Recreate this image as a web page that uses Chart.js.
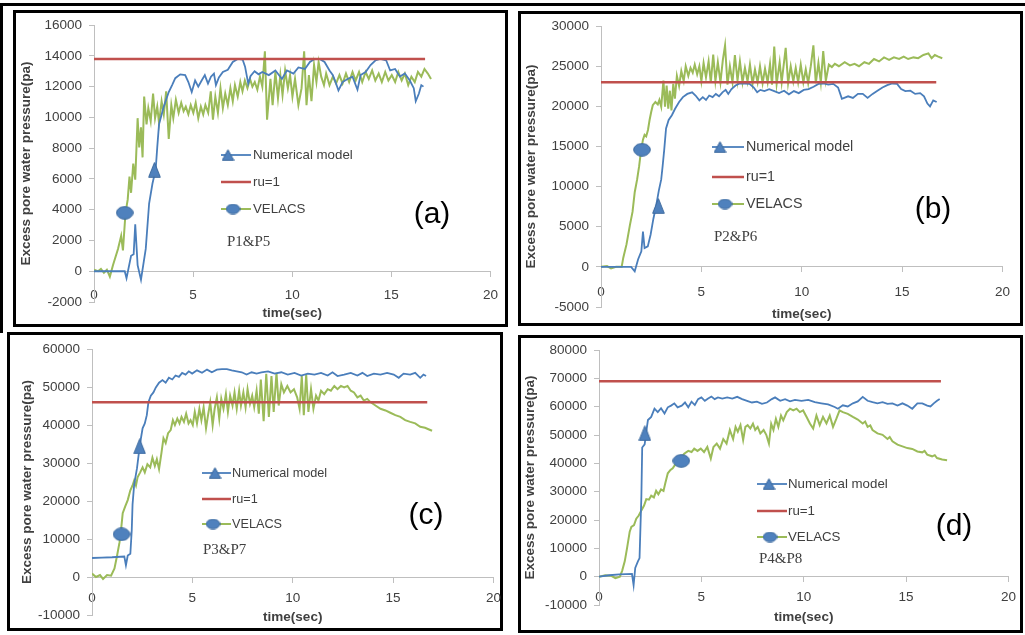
<!DOCTYPE html>
<html>
<head>
<meta charset="utf-8">
<script src="https://cdn.jsdelivr.net/npm/chart.js@4.4.1/dist/chart.umd.min.js"></script>
<style>
	html, body { margin: 0; padding: 0; background: #fff; width: 1025px; height: 635px; overflow: hidden; }
	body { position: relative; }
	canvas { position: absolute; }
	.box { position: absolute; border: 3px solid #000; box-sizing: border-box; }
	.frame { position: absolute; border-top: 3px solid #000; border-left: 3px solid #000; box-sizing: border-box; }
</style>
</head>
<body>
<div class="frame" style="left:0px;top:3px;width:1025px;height:330px"></div>
<div class="box" style="left:13px;top:10px;width:495px;height:317px"></div>
<div class="box" style="left:518px;top:11px;width:505px;height:315px"></div>
<div class="box" style="left:7px;top:332px;width:496px;height:299px"></div>
<div class="box" style="left:518px;top:335px;width:505px;height:298px"></div>
<canvas id="chartA"></canvas>
<canvas id="chartB"></canvas>
<canvas id="chartC"></canvas>
<canvas id="chartD"></canvas>
<script>
// time axis ticks (sec)
const xTicks = [0, 5, 10, 15, 20]

// (a) P1&P5
const aYTicks = [-2000, 0, 2000, 4000, 6000, 8000, 10000, 12000, 14000, 16000]
const aNumT = [0, 1.55, 1.64, 1.87, 2.0, 2.08, 2.2, 2.37, 2.61, 2.78, 2.95, 3.11, 3.19, 3.28, 3.52, 3.77, 3.94, 4.1, 4.35, 4.6, 4.76, 4.93, 5.1, 5.26, 5.43, 5.59, 5.75, 5.9, 6.05, 6.15, 6.3, 6.5, 6.75, 7.0, 7.25, 7.5, 7.62, 7.78, 7.9, 8.1, 8.3, 8.49, 8.82, 9.15, 9.48, 9.73, 10.06, 10.31, 10.64, 10.89, 11.13, 11.38, 11.63, 11.88, 12.05, 12.21, 12.33, 12.54, 12.79, 13.04, 13.29, 13.45, 13.7, 13.95, 14.19, 14.44, 14.74, 14.94, 15.19, 15.43, 15.68, 15.93, 16.13, 16.23, 16.39, 16.51, 16.62]
const aNumP = [0, 0, -450, 1000, 1100, 3050, 400, -550, 1450, 4400, 5700, 6600, 8050, 9550, 10700, 11650, 12100, 12550, 12800, 12750, 12300, 11650, 12400, 12000, 12400, 12750, 12200, 12650, 12850, 12100, 12600, 12950, 13100, 13600, 13800, 13750, 13300, 12200, 12700, 13000, 12800, 12950, 12750, 13050, 12500, 13050, 12850, 13250, 13150, 13600, 13800, 13800, 13600, 13050, 12750, 12200, 11750, 12300, 12500, 12650, 11800, 12750, 12950, 13400, 13700, 13800, 13700, 13050, 13150, 12650, 12850, 12400, 11900, 11050, 11550, 12100, 12000]
const aVelT = [0, 0.2, 0.35, 0.5, 0.65, 0.8, 0.96, 1.21, 1.37, 1.46, 1.59, 1.7, 1.79, 1.87, 1.98, 2.08, 2.2, 2.28, 2.37, 2.45, 2.53, 2.65, 2.74, 2.86, 2.98, 3.08, 3.19, 3.28, 3.41, 3.52, 3.64, 3.77, 3.9, 4.0, 4.13, 4.27, 4.4, 4.52, 4.63, 4.76, 4.88, 5.01, 5.13, 5.26, 5.39, 5.51, 5.62, 5.76, 5.89, 6.0, 6.12, 6.25, 6.38, 6.5, 6.62, 6.75, 6.88, 7.0, 7.11, 7.25, 7.38, 7.49, 7.61, 7.74, 7.87, 7.99, 8.11, 8.24, 8.37, 8.49, 8.62, 8.73, 8.9, 9.01, 9.15, 9.28, 9.4, 9.51, 9.64, 9.78, 9.89, 10.01, 10.14, 10.31, 10.47, 10.6, 10.72, 10.84, 10.97, 11.1, 11.22, 11.33, 11.46, 11.6, 11.71, 11.88, 12.05, 12.21, 12.38, 12.54, 12.71, 12.87, 13.04, 13.2, 13.37, 13.53, 13.7, 13.86, 14.03, 14.19, 14.36, 14.52, 14.69, 14.85, 15.02, 15.19, 15.35, 15.52, 15.68, 15.85, 16.01, 16.18, 16.34, 16.51, 16.67, 16.84, 17.0]
const aVelP = [100, 0, 150, -100, 100, -350, 400, 1450, 2300, 1350, 3800, 4650, 6150, 5100, 7000, 5950, 9950, 8050, 9350, 7400, 11350, 9550, 10600, 9750, 11550, 9950, 10700, 9650, 11050, 10200, 11700, 8600, 10800, 9950, 11150, 10300, 10950, 10400, 10700, 10200, 10800, 10300, 10950, 9950, 10700, 10200, 10800, 10300, 11700, 9850, 11350, 10300, 11900, 10600, 11550, 10800, 11900, 11050, 12100, 11350, 12300, 11700, 12400, 11900, 12500, 12000, 12300, 11800, 12650, 12000, 14300, 9850, 12500, 10800, 12950, 11250, 12750, 11450, 13050, 11900, 12750, 11350, 12500, 10800, 11900, 14300, 10800, 12750, 11050, 13400, 12300, 13600, 12650, 12100, 12850, 12100, 12650, 12200, 12750, 12200, 12850, 12300, 12950, 12400, 12950, 12300, 12950, 12500, 13050, 12400, 12850, 12300, 12950, 12400, 12750, 12300, 12950, 12400, 12850, 12100, 12650, 12300, 12950, 12650, 13150, 12850, 12500]
const aRu = 13800
const aTri = [3.05, 6600]
const aCir = [1.55, 3800]

// (b) P2&P6
const bYTicks = [-5000, 0, 5000, 10000, 15000, 20000, 25000, 30000]
const bNumT = [0, 1.5, 1.68, 1.85, 2.01, 2.09, 2.17, 2.33, 2.47, 2.61, 2.75, 2.88, 3.0, 3.07, 3.15, 3.24, 3.37, 3.53, 3.69, 3.89, 4.08, 4.3, 4.54, 4.71, 4.9, 5.07, 5.23, 5.39, 5.56, 5.72, 5.88, 6.05, 6.21, 6.34, 6.5, 6.7, 6.91, 7.16, 7.4, 7.61, 7.78, 7.94, 8.14, 8.38, 8.63, 8.87, 9.12, 9.36, 9.61, 9.85, 10.1, 10.34, 10.59, 10.83, 11.08, 11.32, 11.57, 11.81, 12.0, 12.31, 12.55, 12.8, 13.04, 13.28, 13.53, 13.77, 14.02, 14.26, 14.51, 14.75, 14.95, 15.16, 15.41, 15.65, 15.9, 16.09, 16.26, 16.39, 16.55, 16.72]
const bNumP = [0, 0, -550, 950, 1950, 4400, 2350, 2550, 4000, 6000, 7650, 9500, 10900, 12550, 14600, 17250, 18300, 18900, 19700, 20550, 21150, 21550, 21750, 21350, 20750, 21150, 20800, 21350, 21150, 21550, 21250, 21750, 22050, 21550, 22150, 22600, 22850, 22850, 22800, 22350, 21750, 22050, 21900, 22150, 21900, 21650, 21950, 21500, 21900, 21650, 22050, 22150, 22450, 22800, 22850, 22700, 22800, 22350, 20950, 21250, 21050, 21550, 21550, 21050, 21550, 21950, 22350, 22650, 22850, 22800, 22150, 21900, 21950, 21550, 21650, 21250, 20350, 20000, 20750, 20550]
const bVelT = [0, 0.3, 0.5, 0.75, 1.03, 1.11, 1.27, 1.44, 1.57, 1.68, 1.8, 1.9, 1.98, 2.09, 2.17, 2.25, 2.34, 2.42, 2.5, 2.58, 2.71, 2.83, 2.91, 3.0, 3.11, 3.19, 3.27, 3.35, 3.43, 3.51, 3.6, 3.68, 3.78, 3.89, 4.0, 4.12, 4.22, 4.35, 4.46, 4.57, 4.67, 4.79, 4.9, 5.0, 5.11, 5.23, 5.36, 5.47, 5.59, 5.7, 5.82, 5.95, 6.07, 6.18, 6.3, 6.42, 6.55, 6.67, 6.8, 6.92, 7.05, 7.17, 7.3, 7.42, 7.55, 7.67, 7.8, 7.92, 8.05, 8.17, 8.3, 8.42, 8.52, 8.63, 8.75, 8.9, 9.0, 9.2, 9.32, 9.45, 9.58, 9.7, 9.82, 9.95, 10.08, 10.2, 10.32, 10.45, 10.58, 10.7, 10.83, 10.95, 11.07, 11.2, 11.35, 11.5, 11.65, 11.85, 12.14, 12.4, 12.63, 12.85, 13.12, 13.35, 13.6, 13.85, 14.1, 14.35, 14.59, 14.85, 15.08, 15.3, 15.57, 15.8, 16.06, 16.31, 16.47, 16.63, 16.8, 17.0]
const bVelP = [0, 100, -200, 0, 0, 1150, 2800, 5200, 6850, 9300, 10900, 12550, 14200, 15850, 16450, 16250, 17050, 18300, 19300, 20150, 20550, 20250, 20800, 19950, 23200, 19950, 22600, 19700, 21950, 19500, 22800, 20950, 23800, 22550, 24400, 23150, 25000, 23800, 24800, 24200, 25200, 24000, 25000, 23150, 25400, 23600, 25600, 22950, 26450, 23150, 25500, 23000, 25800, 27600, 22700, 25000, 23000, 26400, 23200, 25600, 23000, 24800, 23100, 25200, 22800, 24600, 23000, 25000, 22900, 24700, 23000, 25300, 22700, 27450, 22800, 25500, 23000, 27300, 22900, 25000, 23100, 24800, 23000, 25200, 23000, 24600, 22900, 25000, 27600, 22900, 25400, 23000, 26900, 23200, 25200, 24900, 25300, 25000, 25500, 25100, 25300, 25000, 25500, 25300, 25900, 25600, 26100, 25800, 26100, 25900, 26200, 25900, 26100, 26000, 26400, 26600, 26000, 26400, 26200, 26000]
const bRu = 23000
const bTri = [2.86, 7600]
const bCir = [2.04, 14600]

// (c) P3&P7
const cYTicks = [-10000, 0, 10000, 20000, 30000, 40000, 50000, 60000]
const cNumT = [0, 0.5, 1.0, 1.61, 1.69, 1.78, 1.91, 1.98, 2.02, 2.1, 2.24, 2.32, 2.44, 2.52, 2.63, 2.73, 2.81, 2.93, 3.06, 3.18, 3.34, 3.51, 3.67, 3.83, 4.0, 4.16, 4.33, 4.49, 4.66, 4.82, 4.99, 5.23, 5.48, 5.73, 5.97, 6.22, 6.47, 6.72, 6.96, 7.21, 7.46, 7.7, 7.95, 8.2, 8.44, 8.77, 9.1, 9.43, 9.75, 10.09, 10.42, 10.75, 11.08, 11.41, 11.74, 11.98, 12.23, 12.56, 12.89, 13.22, 13.47, 13.71, 14.04, 14.37, 14.7, 15.03, 15.28, 15.52, 15.85, 16.1, 16.35, 16.51, 16.64]
const cNumP = [5000, 5100, 5200, 5400, 3100, 5650, 6100, 12300, 19100, 24300, 28600, 32000, 36600, 39150, 40450, 42600, 46000, 47750, 48600, 49900, 51150, 51850, 51150, 52450, 52000, 53050, 52700, 53750, 53300, 54150, 53550, 54400, 53750, 54600, 53900, 54600, 54750, 54750, 54400, 54150, 53900, 53300, 53900, 53550, 53900, 54150, 53550, 53900, 53300, 53750, 53050, 53550, 53300, 53750, 53050, 53900, 52900, 53300, 53750, 53050, 53750, 52900, 53550, 53300, 53750, 53300, 52450, 53550, 53300, 53750, 52450, 53300, 52900]
const cVelT = [0, 0.2, 0.4, 0.55, 0.75, 0.95, 1.12, 1.25, 1.37, 1.45, 1.53, 1.65, 1.78, 1.91, 2.02, 2.1, 2.19, 2.27, 2.4, 2.52, 2.63, 2.76, 2.9, 3.01, 3.13, 3.23, 3.34, 3.46, 3.56, 3.67, 3.79, 3.92, 4.03, 4.13, 4.25, 4.36, 4.46, 4.58, 4.69, 4.81, 4.91, 5.02, 5.12, 5.23, 5.35, 5.45, 5.56, 5.68, 5.78, 5.89, 6.01, 6.11, 6.22, 6.34, 6.44, 6.55, 6.67, 6.77, 6.88, 7.0, 7.1, 7.21, 7.33, 7.42, 7.54, 7.65, 7.75, 7.87, 7.98, 8.08, 8.2, 8.31, 8.41, 8.55, 8.68, 8.81, 8.94, 9.05, 9.19, 9.3, 9.43, 9.56, 9.73, 9.89, 10.06, 10.22, 10.34, 10.45, 10.55, 10.67, 10.78, 10.91, 11.03, 11.16, 11.28, 11.41, 11.57, 11.74, 11.9, 12.07, 12.23, 12.4, 12.56, 12.73, 12.89, 13.05, 13.22, 13.38, 13.54, 13.71, 13.87, 14.12, 14.37, 14.62, 14.86, 15.11, 15.36, 15.6, 15.85, 16.1, 16.35, 16.59, 16.76, 16.94]
const cVelP = [900, 0, 500, -500, 500, 350, 2250, 5650, 9100, 12550, 16800, 18550, 20250, 22850, 24100, 25400, 24100, 26250, 27550, 28850, 27550, 29700, 28850, 31400, 29250, 31000, 28400, 32700, 36550, 35300, 37850, 38700, 41300, 40000, 41700, 40450, 42150, 40850, 43000, 40450, 41300, 40000, 43450, 40450, 44300, 41300, 44700, 39150, 42600, 46000, 40000, 44300, 47300, 41700, 46900, 44300, 48150, 43450, 47750, 45150, 48600, 44300, 49050, 45150, 48600, 44700, 49450, 45600, 47750, 44700, 49050, 43000, 52000, 41000, 53500, 42150, 52900, 43450, 53750, 45150, 50750, 48600, 50300, 48600, 49450, 47300, 44300, 52900, 42600, 53300, 43450, 49450, 44300, 47750, 46450, 49050, 48150, 49450, 49050, 50300, 49450, 50300, 49900, 50300, 49050, 48600, 47300, 47750, 46450, 46900, 46050, 45150, 44300, 43850, 43250, 42600, 42150, 41300, 40850, 40450, 39550, 39300, 38900, 38500]
const cRu = 46000
const cTri = [2.37, 34400]
const cCir = [1.47, 11250]

// (d) P4&P8
const dYTicks = [-10000, 0, 10000, 20000, 30000, 40000, 50000, 60000, 70000, 80000]
const dNumT = [0, 0.5, 1.0, 1.61, 1.69, 1.77, 1.9, 1.98, 2.07, 2.11, 2.23, 2.31, 2.39, 2.55, 2.71, 2.87, 3.03, 3.2, 3.36, 3.52, 3.68, 3.84, 4.04, 4.2, 4.36, 4.52, 4.68, 4.84, 5.0, 5.17, 5.33, 5.49, 5.65, 5.81, 6.02, 6.26, 6.51, 6.75, 6.99, 7.23, 7.47, 7.71, 7.96, 8.2, 8.44, 8.6, 8.85, 9.09, 9.33, 9.57, 9.89, 10.22, 10.54, 10.86, 11.19, 11.51, 11.67, 11.91, 12.15, 12.4, 12.64, 12.88, 13.12, 13.36, 13.6, 13.85, 14.09, 14.33, 14.58, 14.82, 15.06, 15.3, 15.55, 15.79, 16.03, 16.19, 16.35, 16.51, 16.64]
const dNumP = [0, 500, 800, 1000, -3000, 3100, 5400, 6550, 28400, 45600, 46700, 51300, 55300, 56400, 59300, 58100, 59500, 57600, 59800, 60400, 61200, 59800, 60400, 61500, 59800, 61800, 60600, 62700, 63300, 62100, 62900, 63600, 62700, 63300, 62900, 63300, 62900, 63500, 62700, 62100, 61500, 61800, 61000, 61500, 62700, 63300, 62100, 62700, 61900, 62400, 62100, 62400, 61600, 61200, 60800, 59900, 59300, 60500, 60100, 61200, 61900, 63500, 62100, 61600, 61200, 61600, 61000, 61200, 60400, 61200, 60400, 59300, 61200, 61200, 60400, 60100, 61200, 62100, 62700]
const dVelT = [0, 0.3, 0.6, 0.8, 1.02, 1.13, 1.26, 1.37, 1.5, 1.58, 1.71, 1.82, 1.94, 2.07, 2.2, 2.31, 2.44, 2.55, 2.68, 2.79, 2.9, 3.03, 3.15, 3.24, 3.36, 3.49, 3.6, 3.76, 3.92, 4.16, 4.36, 4.52, 4.65, 4.81, 4.97, 5.13, 5.29, 5.46, 5.59, 5.75, 5.91, 6.07, 6.23, 6.39, 6.55, 6.67, 6.78, 6.91, 7.04, 7.15, 7.26, 7.39, 7.52, 7.63, 7.75, 7.88, 8.04, 8.17, 8.3, 8.41, 8.52, 8.64, 8.76, 8.89, 9.0, 9.17, 9.33, 9.49, 9.65, 9.81, 9.97, 10.14, 10.3, 10.46, 10.62, 10.78, 10.94, 11.11, 11.27, 11.43, 11.59, 11.75, 11.91, 12.15, 12.4, 12.64, 12.88, 13.0, 13.12, 13.25, 13.36, 13.6, 13.85, 14.09, 14.2, 14.33, 14.58, 14.82, 15.06, 15.3, 15.55, 15.79, 15.9, 16.03, 16.27, 16.4, 16.51, 16.76, 17.0]
const dVelP = [0, 500, 300, -500, 0, 2050, 5500, 10100, 15900, 17600, 18200, 20500, 21600, 23400, 25100, 27400, 27200, 28600, 28000, 30300, 29100, 30800, 30300, 33100, 36500, 37700, 38300, 40000, 41200, 43400, 44400, 44000, 45200, 44400, 45200, 44000, 45800, 41700, 45800, 47000, 45200, 48600, 47000, 51800, 48600, 52900, 51200, 53500, 48300, 52900, 53500, 52300, 54000, 51800, 52900, 50600, 51800, 50100, 47000, 54000, 51800, 55700, 52900, 56900, 55200, 58100, 59300, 58700, 59300, 58100, 58700, 56400, 54100, 52300, 56900, 53500, 56400, 54100, 56900, 52900, 55700, 58700, 58100, 57500, 56400, 55500, 54100, 54800, 52900, 53400, 51800, 50600, 50100, 48600, 49300, 47800, 46600, 46000, 45400, 45100, 44200, 43900, 44400, 43100, 42500, 42900, 41900, 41400, 41100]
const dRu = 69000
const dTri = [2.24, 50700]
const dCir = [4.02, 40900]

const ruEnd = 16.7

const blue = '#4A7EBB'
const green = '#9BBB59'
const red = '#C0504D'
const markFill = '#4F81BD'
const grayText = '#404040'
const axisGray = '#BFBFBF'

function triangleImg(w, h) {
	const c = document.createElement('canvas')
	c.width = w
	c.height = h
	const g = c.getContext('2d')
	g.beginPath()
	g.moveTo(w / 2, 0.7)
	g.lineTo(w - 0.7, h - 0.7)
	g.lineTo(0.7, h - 0.7)
	g.closePath()
	g.fillStyle = markFill
	g.fill()
	g.strokeStyle = '#3D6A9E'
	g.lineWidth = 1
	g.stroke()
	return c
}

function ellipseImg(w, h) {
	const c = document.createElement('canvas')
	c.width = w
	c.height = h
	const g = c.getContext('2d')
	g.beginPath()
	g.ellipse(w / 2, h / 2, w / 2 - 0.7, h / 2 - 0.7, 0, 0, Math.PI * 2)
	g.fillStyle = markFill
	g.fill()
	g.strokeStyle = '#3D6A9E'
	g.lineWidth = 1
	g.stroke()
	return c
}

const triBig = triangleImg(13, 16)
const cirBig = ellipseImg(18, 14)
const triSmall = triangleImg(13, 12)
const cirSmall = ellipseImg(15, 11)

function pairs(ts, ps) {
	return ts.map((t, i) => ({ x: t, y: ps[i] }))
}

// page-pixel layout of each panel
const panels = [
	{
		id: 'chartA', tag: '(a)', probe: 'P1&P5',
		numT: aNumT, numP: aNumP, velT: aVelT, velP: aVelP, ru: aRu, tri: aTri, cir: aCir, yTicks: aYTicks,
		L: 94, T: 20, R: 497, B: 302, titleX: 26.5, xTitleGap: 42, xTickGap: 24,
		legend: { x1: 221, x2: 251, triX: 228, cirX: 233, textX: 253, rows: [155, 182, 209], size: 13.3 },
		probeAt: [227, 242], tagAt: [432, 215]
	},
	{
		id: 'chartB', tag: '(b)', probe: 'P2&P6',
		numT: bNumT, numP: bNumP, velT: bVelT, velP: bVelP, ru: bRu, tri: bTri, cir: bCir, yTicks: bYTicks,
		L: 601, T: 21, R: 1010, B: 307, titleX: 531, xTitleGap: 47, xTickGap: 25,
		legend: { x1: 712, x2: 744, triX: 720, cirX: 725, textX: 746, rows: [147, 177, 204], size: 14.3 },
		probeAt: [714, 237], tagAt: [933, 210]
	},
	{
		id: 'chartC', tag: '(c)', probe: 'P3&P7',
		numT: cNumT, numP: cNumP, velT: cVelT, velP: cVelP, ru: cRu, tri: cTri, cir: cCir, yTicks: cYTicks,
		L: 92, T: 344, R: 497, B: 615, titleX: 27, xTitleGap: 40, xTickGap: 21,
		legend: { x1: 202, x2: 231, triX: 215, cirX: 213, textX: 232, rows: [473, 499, 524], size: 12.7 },
		probeAt: [203, 550], tagAt: [426, 516]
	},
	{
		id: 'chartD', tag: '(d)', probe: 'P4&P8',
		numT: dNumT, numP: dNumP, velT: dVelT, velP: dVelP, ru: dRu, tri: dTri, cir: dCir, yTicks: dYTicks,
		L: 599, T: 345, R: 1012, B: 605, titleX: 530, xTitleGap: 41, xTickGap: 21,
		legend: { x1: 757, x2: 787, triX: 769, cirX: 770, textX: 788, rows: [484, 511, 537], size: 13.3 },
		probeAt: [759, 559], tagAt: [954, 527]
	}
]

function decorPlugin(p, left, top) {
	return {
		id: 'decor',
		afterDraw(chart) {
			const ctx = chart.ctx
			const lg = p.legend
			const rows = lg.rows.map((r) => r - top)
			const seg = (y, color, w) => {
				ctx.beginPath()
				ctx.moveTo(lg.x1 - left, y)
				ctx.lineTo(lg.x2 - left, y)
				ctx.strokeStyle = color
				ctx.lineWidth = w
				ctx.stroke()
			}
			ctx.save()
			seg(rows[0], blue, 1.8)
			seg(rows[1], red, 2.5)
			seg(rows[2], green, 2)
			ctx.drawImage(triSmall, lg.triX - left - triSmall.width / 2, rows[0] - triSmall.height / 2)
			ctx.drawImage(cirSmall, lg.cirX - left - cirSmall.width / 2, rows[2] - cirSmall.height / 2)
			ctx.fillStyle = grayText
			ctx.textBaseline = 'middle'
			ctx.textAlign = 'left'
			ctx.font = lg.size + 'px "Liberation Sans"'
			ctx.fillText('Numerical model', lg.textX - left, rows[0])
			ctx.fillText('ru=1', lg.textX - left, rows[1])
			ctx.fillText('VELACS', lg.textX - left, rows[2])
			ctx.font = '15px "Liberation Serif"'
			ctx.fillText(p.probe, p.probeAt[0] - left, p.probeAt[1] - top)
			ctx.fillStyle = '#000'
			ctx.textAlign = 'center'
			ctx.font = '30px "Liberation Sans"'
			ctx.fillText(p.tag, p.tagAt[0] - left, p.tagAt[1] - top)
			ctx.restore()
		}
	}
}

const tickFont = { family: 'Liberation Sans', size: 13.5 }
const titleFont = { family: 'Liberation Sans', size: 13.5, weight: 'bold' }

panels.forEach((p) => {
	const left = p.L - 80
	const top = p.T - 10
	const canvas = document.getElementById(p.id)
	canvas.width = p.R + 12 - left
	canvas.height = p.B + 30 - top
	canvas.style.left = left + 'px'
	canvas.style.top = top + 'px'
	const yMin = p.yTicks[0]
	const yMax = p.yTicks[p.yTicks.length - 1]
	const yStep = p.yTicks[1] - p.yTicks[0]
	const halfLine = titleFont.size * 1.2 / 2

	new Chart(canvas, {
		type: 'line',
		data: {
			datasets: [
				{ label: 'tri', data: [{ x: p.tri[0], y: p.tri[1] }], showLine: false, pointStyle: triBig, pointRadius: 8, order: 0 },
				{ label: 'cir', data: [{ x: p.cir[0], y: p.cir[1] }], showLine: false, pointStyle: cirBig, pointRadius: 9, order: 1 },
				{ label: 'ru=1', data: [{ x: 0, y: p.ru }, { x: ruEnd, y: p.ru }], borderColor: red, borderWidth: 2.6, pointRadius: 0, order: 2 },
				{ label: 'Numerical model', data: pairs(p.numT, p.numP), borderColor: blue, borderWidth: 1.8, pointRadius: 0, order: 3 },
				{ label: 'VELACS', data: pairs(p.velT, p.velP), borderColor: green, borderWidth: 2, pointRadius: 0, order: 4 }
			]
		},
		options: {
			responsive: false,
			animation: false,
			events: [],
			layout: { padding: { left: 0, top: 10, right: 12, bottom: 30 } },
			plugins: {
				legend: { display: false },
				tooltip: { enabled: false }
			},
			scales: {
				x: {
					type: 'linear',
					position: { y: 0 },
					min: xTicks[0],
					max: xTicks[xTicks.length - 1],
					ticks: {
						stepSize: xTicks[1] - xTicks[0],
						padding: p.xTickGap - 5 - 8,
						color: grayText,
						font: tickFont,
						maxRotation: 0,
						autoSkip: false,
						callback: (v) => String(v)
					},
					grid: { drawOnChartArea: false, tickLength: 5, color: axisGray },
					border: { color: axisGray },
					title: { display: true, text: 'time(sec)', color: grayText, font: titleFont, padding: 0 },
					afterFit: (s) => { s.height = p.xTitleGap + halfLine }
				},
				y: {
					type: 'linear',
					position: 'left',
					min: yMin,
					max: yMax,
					ticks: {
						stepSize: yStep,
						padding: 7,
						color: grayText,
						font: tickFont,
						callback: (v) => String(v)
					},
					grid: { drawOnChartArea: false, tickLength: 5, color: axisGray },
					border: { color: axisGray },
					title: {
						display: true,
						text: 'Excess pore water pressure(pa)',
						color: grayText,
						font: titleFont,
						padding: { top: p.titleX - left - halfLine, bottom: 0 }
					},
					afterFit: (s) => { s.width = 80 }
				}
			}
		},
		plugins: [decorPlugin(p, left, top)]
	})
})
</script>
</body>
</html>
